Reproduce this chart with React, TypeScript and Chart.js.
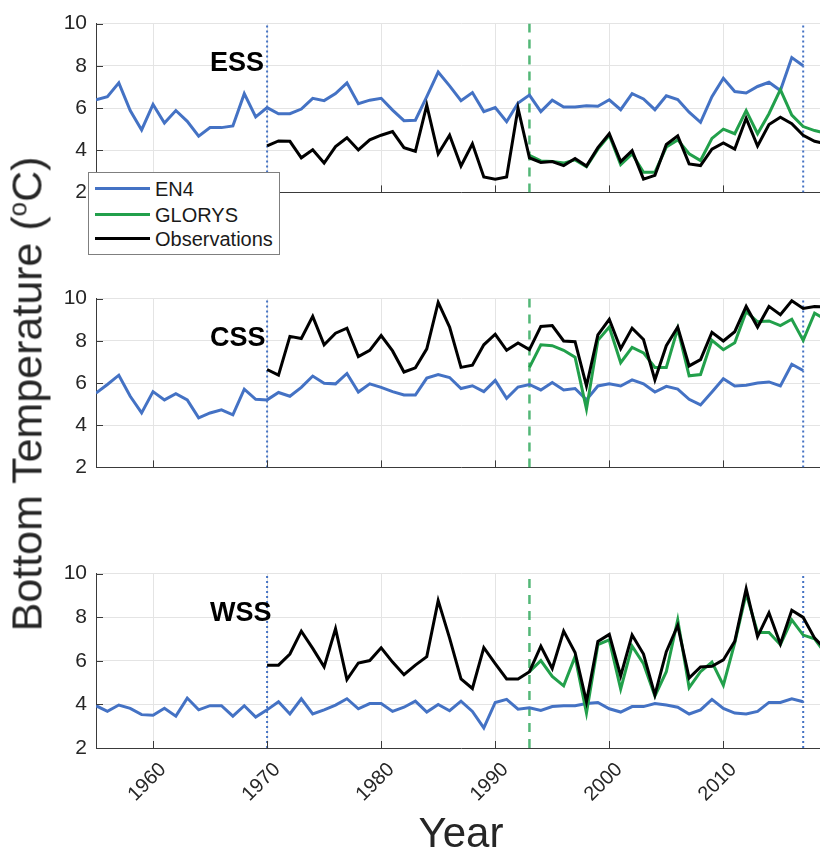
import React, { useEffect, useRef } from "react";
import { Chart, registerables } from "chart.js";

Chart.register(...registerables);

// ---------- data ----------
const years = [
  1955, 1956, 1957, 1958, 1959, 1960, 1961, 1962, 1963, 1964,
  1965, 1966, 1967, 1968, 1969, 1970, 1971, 1972, 1973, 1974,
  1975, 1976, 1977, 1978, 1979, 1980, 1981, 1982, 1983, 1984,
  1985, 1986, 1987, 1988, 1989, 1990, 1991, 1992, 1993, 1994,
  1995, 1996, 1997, 1998, 1999, 2000, 2001, 2002, 2003, 2004,
  2005, 2006, 2007, 2008, 2009, 2010, 2011, 2012, 2013, 2014,
  2015, 2016, 2017, 2018, 2019,
];
const en4Years = years.filter((y) => y <= 2017);
const obsYears = years.filter((y) => y >= 1970);
const glorysYears = years.filter((y) => y >= 1993);

const xTicks = [1960, 1970, 1980, 1990, 2000, 2010];
const yTicks = [2, 4, 6, 8, 10];
const blueMarkers = [1970, 2017];
const greenMarkers = [1993];

// ESS
const essEN4 = [
  6.39, 6.54, 7.19, 5.88, 4.96, 6.17, 5.29, 5.88, 5.37, 4.66,
  5.07, 5.07, 5.15, 6.68, 5.58, 6.02, 5.73, 5.73, 5.95, 6.46,
  6.35, 6.68, 7.19, 6.2, 6.37, 6.46, 5.9, 5.4, 5.42, 6.54,
  7.7, 7.05, 6.35, 6.73, 5.83, 6.02, 5.35, 6.24, 6.61, 5.83,
  6.37, 6.05, 6.05, 6.11, 6.08, 6.39, 5.92, 6.68, 6.43, 5.92,
  6.58, 6.4, 5.8, 5.32, 6.54, 7.41, 6.78, 6.71, 7.02, 7.22,
  6.83, 8.39, 8.0,
];
const essObs = [
  4.2, 4.44, 4.42, 3.64, 4.02, 3.39, 4.17, 4.59, 4.01, 4.49,
  4.71, 4.88, 4.12, 3.95, 6.14, 3.83, 4.71, 3.25, 4.3, 2.73,
  2.63, 2.73, 5.99, 3.64, 3.42, 3.46, 3.27, 3.61, 3.25, 4.12,
  4.78, 3.46, 3.98, 2.63, 2.81, 4.27, 4.68, 3.35, 3.27, 4.05,
  4.34, 4.05, 5.51, 4.2, 5.22, 5.56, 5.26, 4.71, 4.42, 4.3,
];
const essGLORYS = [
  3.76, 3.49, 3.46, 3.39, 3.54, 3.22, 4.05, 4.71, 3.32, 3.83,
  2.95, 2.95, 4.15, 4.49, 3.83, 3.51, 4.56, 5.0, 4.78, 5.88,
  4.78, 5.73, 6.87, 5.66, 5.12, 4.93, 4.8,
];

// CSS
const cssEN4 = [
  5.52, 5.93, 6.37, 5.37, 4.58, 5.59, 5.2, 5.49, 5.2, 4.35,
  4.58, 4.73, 4.49, 5.71, 5.23, 5.2, 5.55, 5.37, 5.79, 6.33,
  5.99, 5.96, 6.45, 5.57, 5.96, 5.79, 5.59, 5.43, 5.43, 6.23,
  6.4, 6.26, 5.74, 5.87, 5.59, 6.12, 5.27, 5.81, 5.93, 5.67,
  6.02, 5.67, 5.74, 5.2, 5.86, 5.96, 5.86, 6.15, 5.96, 5.57,
  5.84, 5.71, 5.23, 4.96, 5.57, 6.2, 5.86, 5.89, 6.0, 6.05,
  5.86, 6.89, 6.59,
];
const cssObs = [
  6.64, 6.37, 8.21, 8.11, 9.16, 7.81, 8.36, 8.6, 7.25, 7.55,
  8.25, 7.52, 6.52, 6.72, 7.62, 9.82, 8.65, 6.74, 6.84, 7.81,
  8.31, 7.55, 7.9, 7.58, 8.68, 8.72, 7.99, 7.96, 5.86, 8.28,
  9.02, 7.62, 8.6, 8.06, 6.15, 7.77, 8.65, 6.81, 7.11, 8.4,
  7.99, 8.43, 9.63, 8.65, 9.63, 9.24, 9.9, 9.53, 9.63, 9.6,
];
const cssGLORYS = [
  6.74, 7.81, 7.77, 7.55, 7.22, 4.76, 8.02, 8.65, 6.96, 7.69,
  7.43, 6.74, 6.74, 8.58, 6.34, 6.4, 8.02, 7.58, 7.91, 9.38,
  8.9, 8.94, 8.72, 9.02, 8.02, 9.31, 9.0,
];

// WSS
const wssEN4 = [
  3.94, 3.68, 3.97, 3.82, 3.53, 3.5, 3.82, 3.46, 4.29, 3.75,
  3.94, 3.94, 3.46, 3.94, 3.42, 3.75, 4.12, 3.56, 4.26, 3.56,
  3.75, 3.97, 4.26, 3.8, 4.04, 4.04, 3.68, 3.87, 4.15, 3.65,
  4.0, 3.71, 4.15, 3.68, 2.92, 4.09, 4.23, 3.78, 3.85, 3.72,
  3.9, 3.94, 3.94, 4.04, 4.09, 3.8, 3.65, 3.9, 3.9, 4.04,
  3.97, 3.87, 3.56, 3.75, 4.23, 3.82, 3.6, 3.56, 3.68, 4.09,
  4.09, 4.26, 4.12,
];
const wssObs = [
  5.8, 5.8, 6.31, 7.36, 6.57, 5.72, 7.47, 5.14, 5.9, 6.01,
  6.6, 5.94, 5.36, 5.8, 6.19, 8.76, 7.04, 5.17, 4.73, 6.6,
  5.87, 5.17, 5.17, 5.5, 6.67, 5.65, 7.36, 6.38, 4.12, 6.89,
  7.21, 5.31, 7.18, 6.31, 4.44, 6.42, 7.62, 5.21, 5.72, 5.75,
  6.04, 6.89, 9.3, 7.11, 8.2, 6.77, 8.32, 7.99, 7.04, 6.5,
];
const wssGLORYS = [
  5.5, 6.01, 5.28, 4.85, 6.19, 3.61, 6.74, 6.96, 4.7, 6.67,
  5.87, 4.38, 5.5, 7.88, 4.77, 5.5, 5.94, 4.88, 6.82, 9.08,
  7.3, 7.3, 6.74, 7.88, 7.18, 7.01, 6.3,
];

const panelNames = ["ESS", "CSS", "WSS"];
const seriesNames = ["EN4", "GLORYS", "Observations"];

const panels = [
  { name: panelNames[0], en4: essEN4, glorys: essGLORYS, obs: essObs },
  { name: panelNames[1], en4: cssEN4, glorys: cssGLORYS, obs: cssObs },
  { name: panelNames[2], en4: wssEN4, glorys: wssGLORYS, obs: wssObs },
];

// ---------- style ----------
const FONT = '"Liberation Sans", Arial, Helvetica, sans-serif';
const BLUE = "#4472C4";
const GREEN = "#22A04B";
const GREEN_DASH = "rgba(40,165,85,0.8)";
const BLACK = "#000000";
const GRID = "#e4e4e4";
const AXIS = "#3a3a3a";
const TEXT = "#262626";

const PANEL_TOPS = [16, 291, 566];
const PLOT_H = 182;
const PAD_TOP = 14;
const Y_AXIS_W = 96;
const CANVAS_W = 826;

function pts(xs: number[], ys: number[]) {
  return xs.map((x, i) => ({ x, y: ys[i] }));
}

const innerTicks = {
  id: "innerTicks",
  afterDatasetsDraw(chart: any) {
    const { ctx, chartArea: a, scales } = chart;
    const x = scales.x;
    const y = scales.y;
    ctx.save();
    ctx.strokeStyle = AXIS;
    ctx.lineWidth = 1;
    ctx.beginPath();
    xTicks.forEach((v) => {
      const px = Math.round(x.getPixelForValue(v)) + 0.5;
      ctx.moveTo(px, a.bottom);
      ctx.lineTo(px, a.bottom - 7);
    });
    yTicks.forEach((v) => {
      const py = Math.round(y.getPixelForValue(v)) + 0.5;
      ctx.moveTo(a.left, py);
      ctx.lineTo(a.left + 7, py);
    });
    ctx.stroke();
    ctx.restore();
  },
};

function Panel({ index }: { index: number }) {
  const ref = useRef<HTMLCanvasElement | null>(null);
  const showX = index === 2;
  const xH = showX ? 90 : 16;
  const panel = panels[index];

  useEffect(() => {
    if (!ref.current) return;
    const marker = (x: number, color: string, dash: number[], w: number) => ({
      label: "",
      data: [
        { x, y: yTicks[0] },
        { x, y: yTicks[yTicks.length - 1] },
      ],
      borderColor: color,
      borderDash: dash,
      borderWidth: w,
      pointRadius: 0,
      order: 1,
    });
    const chart = new Chart(ref.current, {
      type: "line",
      data: {
        datasets: [
          {
            label: seriesNames[2],
            data: pts(obsYears, panel.obs),
            borderColor: BLACK,
            borderWidth: 3,
            pointRadius: 0,
            order: 0,
          },
          {
            label: seriesNames[1],
            data: pts(glorysYears, panel.glorys),
            borderColor: GREEN,
            borderWidth: 3,
            pointRadius: 0,
            order: 0,
          },
          {
            label: seriesNames[0],
            data: pts(en4Years, panel.en4),
            borderColor: BLUE,
            borderWidth: 3,
            pointRadius: 0,
            order: 0,
          },
          ...blueMarkers.map((x) => marker(x, BLUE, [2, 3], 2)),
          ...greenMarkers.map((x) => marker(x, GREEN_DASH, [9, 7], 2.5)),
        ] as any,
      },
      options: {
        responsive: false,
        animation: false,
        devicePixelRatio: 1,
        layout: { padding: { top: PAD_TOP, left: 0, right: 0, bottom: 0 } },
        elements: { line: { tension: 0 }, point: { radius: 0 } },
        plugins: {
          legend: { display: false },
          tooltip: { enabled: false },
        },
        scales: {
          x: {
            type: "linear",
            min: years[0],
            max: years[years.length - 1],
            afterBuildTicks: (s: any) => {
              s.ticks = xTicks.map((v) => ({ value: v }));
            },
            afterFit: (s: any) => {
              s.height = xH;
            },
            grid: { color: GRID, lineWidth: 1, drawTicks: false },
            border: { display: true, color: AXIS, width: 1 },
            ticks: {
              display: showX,
              minRotation: 45,
              maxRotation: 45,
              padding: 10,
              labelOffset: 10,
              color: TEXT,
              font: { family: FONT, size: 20 },
              callback: (v: any) => String(v),
            },
          },
          y: {
            type: "linear",
            min: yTicks[0],
            max: yTicks[yTicks.length - 1],
            afterBuildTicks: (s: any) => {
              s.ticks = yTicks.map((v) => ({ value: v }));
            },
            afterFit: (s: any) => {
              s.width = Y_AXIS_W;
            },
            grid: { color: GRID, lineWidth: 1, drawTicks: false },
            border: { display: true, color: AXIS, width: 1 },
            ticks: {
              padding: 9,
              color: TEXT,
              font: { family: FONT, size: 21 },
              callback: (v: any) => String(v),
            },
          },
        },
      } as any,
      plugins: [innerTicks],
    });
    return () => chart.destroy();
  }, []);

  return (
    <canvas
      ref={ref}
      width={CANVAS_W}
      height={PAD_TOP + PLOT_H + xH}
      style={{
        position: "absolute",
        left: 0,
        top: PANEL_TOPS[index] - PAD_TOP,
        width: CANVAS_W,
        height: PAD_TOP + PLOT_H + xH,
      }}
    />
  );
}

const legendItems = [
  { label: seriesNames[0], color: BLUE, y: 16 },
  { label: seriesNames[1], color: GREEN, y: 42 },
  { label: seriesNames[2], color: BLACK, y: 66 },
];

export default function App() {
  return (
    <div
      style={{
        position: "fixed",
        left: 0,
        top: 0,
        width: 820,
        height: 861,
        overflow: "hidden",
        background: "#ffffff",
        fontFamily: FONT,
        color: TEXT,
      }}
    >
      {panels.map((p, i) => (
        <Panel key={p.name} index={i} />
      ))}

      {panels.map((p, i) => (
        <div
          key={"lbl" + p.name}
          style={{
            position: "absolute",
            left: 210,
            top: PANEL_TOPS[i] + 33,
            fontSize: 27,
            lineHeight: "27px",
            fontWeight: "bold",
            color: "#000",
            whiteSpace: "nowrap",
          }}
        >
          {p.name}
        </div>
      ))}

      {/* legend */}
      <div
        style={{
          position: "absolute",
          left: 88,
          top: 172,
          width: 192,
          height: 83,
          boxSizing: "border-box",
          border: "1px solid #7f7f7f",
          background: "#ffffff",
        }}
      >
        {legendItems.map((it) => (
          <React.Fragment key={it.label}>
            <div
              style={{
                position: "absolute",
                left: 6,
                top: it.y - 2,
                width: 55,
                height: 3,
                background: it.color,
              }}
            />
            <div
              style={{
                position: "absolute",
                left: 66,
                top: it.y - 12,
                fontSize: 20,
                lineHeight: "24px",
                color: "#1a1a1a",
                whiteSpace: "nowrap",
              }}
            >
              {it.label}
            </div>
          </React.Fragment>
        ))}
      </div>

      {/* y title */}
      <div
        style={{
          position: "absolute",
          left: 27,
          top: 394,
          transform: "translate(-50%, -50%) rotate(-90deg)",
          fontSize: 43,
          lineHeight: "43px",
          whiteSpace: "nowrap",
          color: TEXT,
        }}
      >
        Bottom Temperature (
        <span style={{ fontSize: "0.6em", verticalAlign: "0.6em", lineHeight: 0 }}>o</span>
        C)
      </div>

      {/* x title */}
      <div
        style={{
          position: "absolute",
          left: 461,
          top: 812,
          transform: "translateX(-50%)",
          fontSize: 42,
          lineHeight: "42px",
          whiteSpace: "nowrap",
          color: TEXT,
        }}
      >
        Year
      </div>
    </div>
  );
}
